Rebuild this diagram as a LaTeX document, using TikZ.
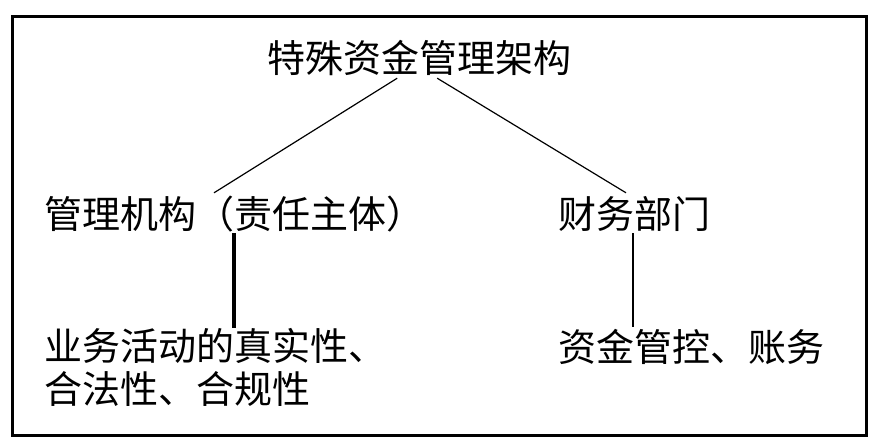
\documentclass[tikz,border=0pt]{standalone}
\usepackage{fontspec}
\setmainfont{Noto Sans CJK SC}
\begin{document}
\begin{tikzpicture}[x=1pt,y=-1pt,
    txt/.style={inner sep=0pt,font=\fontsize{38}{43}\selectfont},
    lbl/.style={txt,anchor=base west,text height=31pt,text depth=4pt},
    branch/.style={line width=1.2pt},
    stem/.style={line width=3.2pt}]
    \useasboundingbox (0,0) rectangle (875,445);
    \draw[line width=3pt] (12,16) rectangle (866,435);
    % labels
    \node[lbl] (root) at (267,72) {特殊资金管理架构};
    \node[lbl] (mgmt) at (44,228) {管理机构（责任主体）};
    \node[lbl] (fin) at (558,228) {财务部门};
    \node[txt,anchor=north west,align=left] (biz) at (44,328) {业务活动的真实性、\\合法性、合规性};
    \node[lbl] (fund) at (558,361) {资金管控、账务};
    % links
    \draw[branch] ([xshift=-22pt,yshift=-2pt]root.south) -- ([xshift=170pt,yshift=4pt]mgmt.north west);
    \draw[branch] ([xshift=18pt,yshift=-2pt]root.south) -- ([xshift=68pt,yshift=4pt]fin.north west);
    \draw[stem] ([xshift=190pt,yshift=-1pt]mgmt.south west) -- ([xshift=190pt]biz.north west);
    \draw[stem,line width=2.7pt] ([xshift=75pt,yshift=-1pt]fin.south west) -- ([xshift=75pt,yshift=3pt]fund.north west);
\end{tikzpicture}
\end{document}
